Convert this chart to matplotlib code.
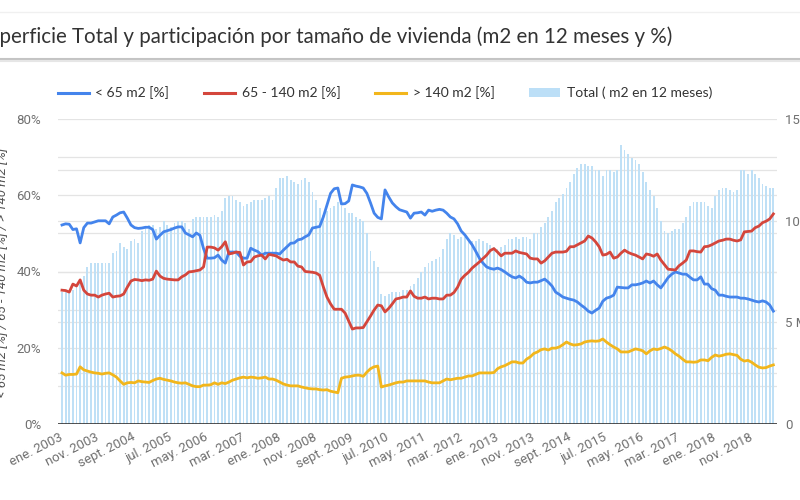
import matplotlib
matplotlib.use("Agg")
import matplotlib.pyplot as plt
from matplotlib.lines import Line2D
from matplotlib.patches import Patch

# monthly series, ene. 2003 .. may. 2019
small = [
    52.2, 52.5, 52.4, 51.0, 51.2, 47.5, 51.5, 52.7, 52.7, 53.0, 53.3, 53.3,
    53.3, 52.5, 54.3, 54.8, 55.4, 55.6, 54.0, 52.2, 51.5, 51.3, 51.4, 51.6,
    51.6, 51.0, 48.5, 49.5, 50.4, 50.7, 51.0, 51.4, 51.7, 51.7, 50.1, 49.6,
    49.1, 50.1, 49.5, 46.0, 43.5, 43.5, 43.6, 44.3, 43.0, 42.2, 45.1, 45.1,
    45.1, 44.0, 43.5, 43.5, 46.1, 45.6, 45.2, 44.3, 44.8, 44.8, 44.8, 44.8,
    44.6, 45.6, 46.5, 47.4, 47.5, 48.3, 48.5, 49.1, 49.6, 51.4, 51.6, 51.8,
    54.3, 57.4, 60.5, 61.7, 61.9, 57.7, 57.8, 58.5, 62.7, 62.4, 62.2, 61.9,
    60.5, 58.0, 55.3, 54.2, 53.8, 61.4, 59.6, 58.0, 57.0, 56.2, 55.9, 55.6,
    54.0, 55.3, 55.4, 55.6, 54.8, 56.1, 55.8, 56.1, 56.3, 56.1, 55.3, 54.3,
    53.8, 52.5, 50.6, 49.6, 48.3, 47.0, 45.3, 43.5, 42.2, 41.2, 40.8, 40.6,
    40.9, 40.5, 39.9, 39.2, 38.6, 38.3, 38.8, 38.2, 37.2, 37.0, 37.2, 37.2,
    37.6, 38.0, 37.2, 36.2, 34.6, 34.0, 33.3, 33.0, 32.7, 32.5, 32.0, 31.2,
    30.5, 29.6, 29.1, 29.8, 30.4, 32.2, 33.0, 33.3, 33.8, 35.9, 35.8, 35.7,
    35.7, 36.5, 36.5, 36.7, 37.0, 37.5, 37.0, 37.5, 36.5, 35.7, 37.0, 38.4,
    39.3, 39.9, 39.6, 39.3, 39.3, 38.5, 37.8, 37.8, 38.6, 36.7, 36.7, 35.5,
    35.1, 33.8, 33.8, 33.5, 33.3, 33.3, 33.3, 33.0, 33.0, 32.8, 32.5, 32.2,
    32.0, 32.3, 32.0, 31.2, 29.6,
]
medium = [
    35.1, 35.0, 34.6, 36.7, 36.2, 37.8, 35.1, 34.1, 33.8, 33.8, 33.3, 33.8,
    34.1, 34.3, 33.3, 33.5, 33.6, 34.1, 35.9, 37.5, 37.9, 37.8, 37.6, 37.8,
    37.7, 38.0, 40.1, 38.8, 38.2, 38.0, 37.9, 37.8, 37.8, 38.6, 39.1, 39.9,
    40.0, 40.2, 40.4, 41.2, 46.4, 46.4, 46.2, 45.6, 46.5, 47.8, 44.6, 44.8,
    45.1, 45.0, 41.7, 42.5, 42.6, 43.8, 44.1, 44.3, 43.3, 44.5, 44.3, 44.1,
    43.5, 43.0, 43.2, 42.5, 42.5, 41.4, 41.2, 40.0, 39.9, 39.8, 39.6, 39.0,
    36.0, 33.3, 31.5, 30.1, 30.1, 30.1, 29.1, 27.0, 24.9, 25.2, 25.2, 25.3,
    26.8, 28.3, 29.9, 31.2, 31.0, 29.4, 30.3, 31.5, 32.8, 33.0, 33.3, 33.3,
    34.9, 33.5, 33.0, 33.0, 33.3, 32.8, 33.0, 33.0, 32.8, 32.8, 33.8, 33.8,
    34.5, 35.9, 38.0, 39.0, 39.8, 40.9, 41.7, 42.5, 43.4, 44.3, 45.5, 46.0,
    45.1, 44.1, 44.8, 44.8, 44.8, 45.4, 45.0, 44.8, 44.6, 43.5, 43.3, 43.3,
    42.2, 42.8, 43.8, 44.8, 45.1, 45.1, 45.1, 45.3, 46.5, 46.5, 47.0, 47.5,
    48.0, 49.3, 48.8, 47.8, 46.5, 44.3, 44.5, 45.1, 43.5, 43.8, 44.8, 45.6,
    45.0, 44.6, 44.3, 43.8, 43.3, 44.6, 44.4, 44.0, 44.6, 43.0, 41.8, 40.6,
    40.5, 40.4, 41.5, 42.2, 43.0, 45.4, 45.4, 45.2, 45.1, 46.5, 46.6, 47.0,
    47.5, 48.0, 48.2, 48.5, 48.5, 48.2, 48.0, 48.3, 50.4, 50.5, 50.6, 51.5,
    51.9, 52.8, 53.2, 53.8, 55.1,
]
large = [
    13.4, 12.8, 13.0, 13.0, 13.1, 15.0, 14.2, 13.9, 13.6, 13.4, 13.3, 13.1,
    13.3, 13.4, 12.9, 12.3, 11.3, 10.4, 10.8, 10.9, 10.8, 11.3, 11.1, 11.0,
    10.9, 11.4, 11.8, 12.0, 11.7, 11.5, 11.3, 11.0, 10.8, 10.7, 10.8, 10.4,
    10.0, 9.8, 9.8, 10.2, 10.2, 10.3, 10.8, 10.4, 10.8, 10.6, 11.0, 11.5,
    11.8, 12.1, 12.3, 12.1, 12.3, 12.2, 12.0, 12.1, 12.3, 11.8, 11.8, 11.5,
    11.0, 10.5, 10.2, 10.0, 10.0, 10.0, 9.7, 9.5, 9.3, 9.2, 9.2, 9.0,
    8.9, 9.0, 8.6, 8.4, 8.2, 12.0, 12.3, 12.4, 12.6, 12.8, 12.8, 12.5,
    13.6, 14.5, 15.0, 15.2, 9.7, 10.0, 10.2, 10.5, 10.8, 11.0, 11.0, 11.3,
    11.3, 11.3, 11.3, 11.3, 11.3, 11.0, 10.8, 10.8, 10.8, 11.3, 11.8, 11.6,
    11.8, 12.0, 12.0, 12.3, 12.6, 12.6, 13.0, 13.4, 13.4, 13.4, 13.4, 13.5,
    14.5, 15.0, 15.3, 15.8, 16.3, 16.3, 16.0, 16.0, 17.0, 17.6, 18.5, 18.9,
    19.5, 19.7, 19.4, 19.9, 19.9, 20.2, 20.8, 21.5, 21.0, 20.7, 20.8, 21.0,
    21.5, 21.7, 21.8, 21.7, 21.8, 22.3, 21.5, 20.8, 20.2, 19.7, 18.9, 18.9,
    18.9, 19.3, 19.7, 19.5, 19.2, 18.4, 19.2, 19.7, 19.5, 19.8, 20.2, 19.8,
    19.2, 18.4, 17.8, 17.0, 16.3, 16.3, 16.2, 16.3, 16.8, 16.8, 16.6, 17.5,
    18.1, 17.8, 18.0, 18.3, 18.4, 18.2, 18.0, 17.0, 16.5, 16.7, 16.2, 15.5,
    14.9, 14.7, 14.8, 15.2, 15.5,
]
# total m2 in 12 months, millions
total = [
    6.5, 6.5, 6.5, 6.6, 6.8, 7.1, 7.3, 7.7, 7.9, 7.9, 7.9, 7.9,
    7.9, 7.9, 8.4, 8.5, 8.9, 8.7, 8.6, 9.0, 9.1, 8.9, 9.5, 9.7,
    9.8, 9.8, 9.6, 9.7, 10.0, 9.8, 9.7, 9.9, 10.0, 10.0, 9.9, 9.6,
    10.1, 10.2, 10.2, 10.2, 10.2, 10.2, 10.3, 10.2, 10.5, 11.1, 11.2, 11.2,
    11.0, 10.9, 10.7, 10.8, 10.9, 11.0, 11.0, 11.0, 11.1, 11.2, 11.0, 11.6,
    12.1, 12.1, 12.2, 12.0, 11.9, 11.8, 12.0, 12.1, 11.9, 11.4, 11.0, 10.6,
    10.3, 10.5, 10.6, 10.7, 10.9, 10.7, 10.6, 10.4, 10.4, 10.2, 10.1, 10.0,
    9.4, 8.5, 8.0, 7.7, 6.4, 6.3, 6.4, 6.5, 6.5, 6.5, 6.6, 6.6,
    6.8, 6.9, 7.2, 7.5, 7.7, 7.9, 8.0, 8.1, 8.2, 8.6, 9.1, 9.4,
    9.3, 9.1, 9.2, 9.2, 9.0, 9.0, 9.0, 9.1, 9.0, 8.9, 8.8, 8.7,
    8.6, 8.7, 8.8, 9.1, 9.1, 9.2, 9.1, 9.2, 9.2, 9.1, 9.4, 9.4,
    9.7, 9.9, 10.2, 10.5, 10.9, 11.1, 11.3, 11.6, 11.9, 12.3, 12.6, 12.8,
    12.8, 12.7, 12.7, 12.5, 12.5, 12.2, 12.5, 12.5, 12.4, 12.5, 13.7, 13.5,
    13.3, 13.1, 13.0, 12.8, 12.4, 11.9, 11.5, 11.2, 10.6, 10.0, 9.5, 9.4,
    9.5, 9.6, 9.6, 9.9, 10.2, 10.7, 10.9, 10.9, 10.9, 10.9, 10.7, 10.6,
    11.2, 11.5, 11.6, 11.6, 11.5, 11.4, 11.5, 12.5, 12.5, 12.3, 12.5, 12.3,
    12.1, 11.8, 11.7, 11.6, 11.6,
]
tick_labels = ["ene. 2003", "nov. 2003", "sept. 2004", "jul. 2005", "may. 2006",
               "mar. 2007", "ene. 2008", "nov. 2008", "sept. 2009", "jul. 2010",
               "may. 2011", "mar. 2012", "ene. 2013", "nov. 2013", "sept. 2014",
               "jul. 2015", "may. 2016", "mar. 2017", "ene. 2018", "nov. 2018"]

months = list(range(len(total)))
tick_pos = list(range(0, 10 * len(tick_labels), 10))

BLUE = "#4484ec"
RED = "#d4463c"
YELLOW = "#f2b61c"
BAR = "#bfe0f6"
GRID = "#e4e4e4"
TXT = "#707070"

fig = plt.figure(figsize=(8, 5), dpi=100)
W, H = 800, 500
ax = fig.add_axes([58 / W, 1 - 424 / H, (777 - 58) / W, (424 - 119) / H])
ax2 = ax.twinx()
ax.set_zorder(ax2.get_zorder() + 1)
ax.patch.set_visible(False)

# grid: left every 10 %, right every 2.5 M
for g in [10, 20, 30, 40, 50, 60, 70, 80]:
    ax2.axhline(g * 15 / 80, color=GRID, lw=0.9, zorder=0)
for g in [2.5, 5, 7.5, 10, 12.5]:
    ax2.axhline(g, color=GRID, lw=0.9, zorder=0)

ax2.bar(months, total, width=0.5, color=BAR, zorder=2, linewidth=0)
ax.plot(months, small, color=BLUE, lw=2.0, solid_joinstyle="round")
ax.plot(months, medium, color=RED, lw=2.0, solid_joinstyle="round")
ax.plot(months, large, color=YELLOW, lw=2.0, solid_joinstyle="round")

ax.set_xlim(-1.1, 197.0)
ax.set_ylim(0, 80)
ax2.set_ylim(0, 15)

ax.set_yticks([0, 20, 40, 60, 80])
ax.set_yticklabels(["0%", "20%", "40%", "60%", "80%"])
ax2.set_yticks([0, 5, 10, 15])
ax2.set_yticklabels(["0", "5 M", "10 M", "15 M"])
ax.set_xticks(tick_pos)
ax.set_xticklabels(tick_labels, rotation=27, ha="right", va="center",
                   rotation_mode="anchor")

for a in (ax, ax2):
    for s in a.spines.values():
        s.set_visible(False)
    a.tick_params(length=0, colors=TXT, labelsize=9.5)
    for lab in a.get_xticklabels() + a.get_yticklabels():
        lab.set_fontfamily("Roboto")
ax.tick_params(axis="y", pad=12)
ax2.tick_params(axis="y", pad=6)
ax.tick_params(axis="x", pad=9)
ax.axhline(0, color="#333333", lw=1.2, zorder=5)

# title (cut at the left edge like the source)
fig.text(672 / W, 1 - 37 / H,
         "Superficie Total y participación por tamaño de vivienda (m2 en 12 meses y %)",
         ha="right", va="center", fontsize=14.8, family="Lato", color="#333333")
fig.add_artist(Line2D([0, 1], [1 - 59 / H, 1 - 59 / H], color="#c4c4c4", lw=1.5))
fig.add_artist(Line2D([0, 1], [1 - 61 / H, 1 - 61 / H], color="#e6e6e6", lw=1.5))
fig.add_artist(Line2D([0, 1], [1 - 12 / H, 1 - 12 / H], color="#f0f0f0", lw=1.0))

# left axis title, mostly outside the picture
fig.text(3 / W, 1 - 272 / H, "< 65 m2 [%] / 65 - 140 m2 [%] / > 140 m2 [%]",
         rotation=90, ha="center", va="center", fontsize=9.5, style="italic",
         family="Roboto", color="#555555")

handles = [Line2D([], [], color=BLUE, lw=2.2),
           Line2D([], [], color=RED, lw=2.2),
           Line2D([], [], color=YELLOW, lw=2.2),
           Patch(facecolor="#bcdff7", edgecolor="none")]
names = ["< 65 m2 [%]", "65 - 140 m2 [%]", "> 140 m2 [%]", "Total ( m2 en 12 meses)"]
fig.legend(handles, names, loc="center", bbox_to_anchor=(385 / W, 1 - 93 / H),
           ncol=4, frameon=False, handlelength=2.2, handletextpad=0.5,
           columnspacing=2.5, prop={"family": "Lato", "size": 10},
           labelcolor="#333333")

fig.savefig("out.png", dpi=100)
